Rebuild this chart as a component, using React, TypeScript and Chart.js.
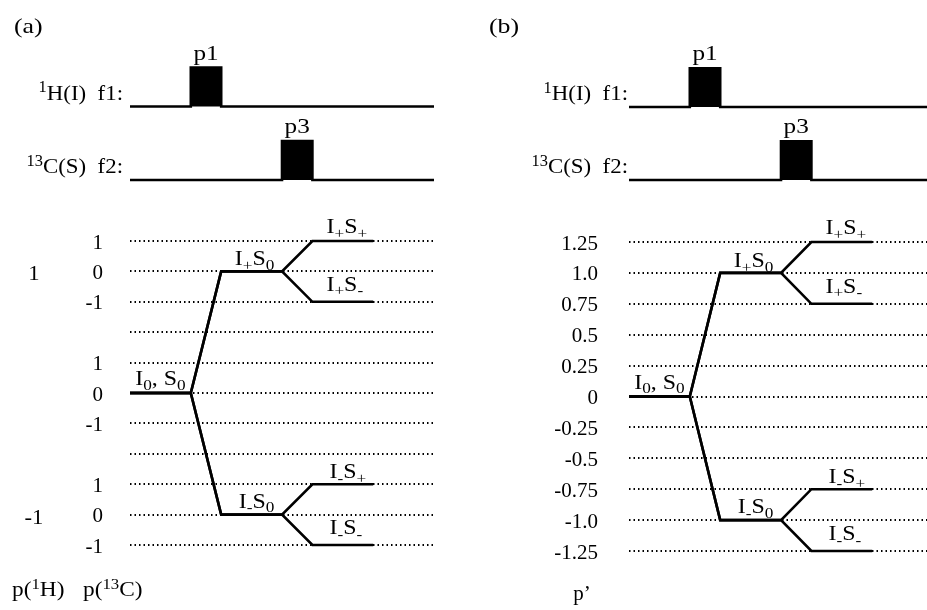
import React, { useEffect, useRef } from "react";
import { Chart, registerables } from "chart.js";

Chart.register(...registerables);

// ---------------- data ----------------
// time axis in units of one pulse width
const timeRange = [0, 10];
const pathTimes = [0, 2, 3, 5, 6, 8];

// pulse sequence
const channelNames = ["^{1}H(I)  f1:", "^{13}C(S)  f2:"];
const channelBaselines = [1, 0];
const pulseNames = ["p1", "p3"];
const pulseStarts = [2, 5];
const pulseEnds = [3, 6];
const pulseHeights = [0.53, 0.53];

// panel (a): levels of p(1H), p(13C)
const levelsA = [5, 4, 3, 2, 1, 0, -1, -2, -3, -4, -5];
const tickLabelsA = ["1", "0", "-1", "", "1", "0", "-1", "", "1", "0", "-1"];
const protonLevelsA = [4, -4];
const protonLabelsA = ["1", "-1"];
const pathA_plusPlus = [0, 0, 4, 4, 5, 5];
const pathA_plusMinus = [0, 0, 4, 4, 3, 3];
const pathA_minusPlus = [0, 0, -4, -4, -3, -3];
const pathA_minusMinus = [0, 0, -4, -4, -5, -5];

// panel (b): p'
const levelsB = [1.25, 1.0, 0.75, 0.5, 0.25, 0, -0.25, -0.5, -0.75, -1.0, -1.25];
const tickLabelsB = ["1.25", "1.0", "0.75", "0.5", "0.25", "0", "-0.25", "-0.5", "-0.75", "-1.0", "-1.25"];
const pathB_plusPlus = [0, 0, 1, 1, 1.25, 1.25];
const pathB_plusMinus = [0, 0, 1, 1, 0.75, 0.75];
const pathB_minusPlus = [0, 0, -1, -1, -0.75, -0.75];
const pathB_minusMinus = [0, 0, -1, -1, -1.25, -1.25];

// coherence state labels: pathway index and segment index
const stateLabels = ["I_{0}, S_{0}", "I_{+}S_{0}", "I_{+}S_{+}", "I_{+}S_{-}", "I_{-}S_{0}", "I_{-}S_{+}", "I_{-}S_{-}"];
const stateLabelPath = [0, 0, 0, 1, 3, 2, 3];
const stateLabelSegment = [0, 2, 4, 4, 2, 4, 4];

// ---------------- style ----------------
const FONT = '"Liberation Serif", "Times New Roman", serif';
const TICK_FS = 21;
const ST_LETTER = { size: 21, sx: 1.23 };
const ST_CHANNEL = { size: 22, sx: 1.04 };
const ST_PULSE = { size: 21, sx: 1.2 };
const ST_STATE = { size: 21, sx: 1.14 };
const ST_BOTTOM = { size: 21, sx: 1.11 };
const stateLabelLift = [8, 6, 8, 11, 7, 6, 11];
const stateLabelShift = [0, 3, 4, 2, 5, 5, 3];
const H = 610;
const PAD_TOP = 50;
const PAD_BOTTOM = 50;

type Run = { t: string; k: "n" | "sub" | "sup" };
function runsOf(s: string): Run[] {
  const out: Run[] = [];
  const re = /([_^])\{([^}]*)\}|([^_^]+)/g;
  let m: RegExpExecArray | null;
  while ((m = re.exec(s))) {
    if (m[1]) out.push({ t: m[2], k: m[1] === "_" ? "sub" : "sup" });
    else out.push({ t: m[3], k: "n" });
  }
  return out;
}

function drawRich(
  ctx: CanvasRenderingContext2D,
  s: string,
  x: number,
  y: number,
  align: "left" | "center" | "right",
  st: { size: number; sx: number }
) {
  const size = st.size;
  const runs = runsOf(s);
  const small = size * 0.72;
  const widths = runs.map((r) => {
    ctx.font = `${r.k === "n" ? size : small}px ${FONT}`;
    return ctx.measureText(r.t).width;
  });
  const total = widths.reduce((a, b) => a + b, 0) * st.sx;
  const x0 = align === "left" ? x : align === "center" ? x - total / 2 : x - total;
  ctx.save();
  ctx.translate(x0, y);
  ctx.scale(st.sx, 1);
  ctx.fillStyle = "#000";
  ctx.textAlign = "left";
  ctx.textBaseline = "alphabetic";
  let cx = 0;
  runs.forEach((r, i) => {
    ctx.font = `${r.k === "n" ? size : small}px ${FONT}`;
    const dy = r.k === "sub" ? size * 0.22 : r.k === "sup" ? -size * 0.32 : 0;
    ctx.fillText(r.t, cx, dy);
    cx += widths[i];
  });
  ctx.restore();
}

type PanelCfg = {
  left: number;
  width: number;
  letter: string;
  letterX: number;
  levels: number[];
  tickLabels: string[];
  paths: number[][];
  yMin: number;
  yMax: number;
  sMin: number;
  sMax: number;
  axisWidth: number;
  tickPad: number;
  padRight: number;
  chanGap: number;
  extra: (ctx: CanvasRenderingContext2D, chart: any) => void;
};

const panelA: PanelCfg = {
  left: 0,
  width: 463,
  letter: "(a)",
  letterX: 14,
  levels: levelsA,
  tickLabels: tickLabelsA,
  paths: [pathA_plusPlus, pathA_plusMinus, pathA_minusPlus, pathA_minusMinus],
  yMin: -5.493,
  yMax: 11.283,
  sMin: -5.17,
  sMax: 1.769,
  axisWidth: 130,
  tickPad: 27,
  padRight: 29,
  chanGap: 7,
  extra: (ctx, chart) => {
    const ys = chart.scales.y;
    protonLevelsA.forEach((lv, i) => {
      drawRich(ctx, protonLabelsA[i], 34, ys.getPixelForValue(lv) + 2 + TICK_FS * 0.33, "center", { size: TICK_FS, sx: 1.08 });
    });
    drawRich(ctx, "p(^{1}H)", 12, 596, "left", ST_BOTTOM);
    drawRich(ctx, "p(^{13}C)", 83, 596, "left", ST_BOTTOM);
  },
};

const panelB: PanelCfg = {
  left: 463,
  width: 470,
  letter: "(b)",
  letterX: 26,
  levels: levelsB,
  tickLabels: tickLabelsB,
  paths: [pathB_plusPlus, pathB_plusMinus, pathB_minusPlus, pathB_minusMinus],
  yMin: -1.3228,
  yMax: 2.8034,
  sMin: -5.205,
  sMax: 1.781,
  axisWidth: 166,
  tickPad: 31,
  padRight: 0,
  chanGap: 1,
  extra: (ctx) => {
    drawRich(ctx, "p\u2019", 119, 600, "center", { size: 21, sx: 1 });
  },
};

function buildConfig(p: PanelCfg): any {
  const datasets: any[] = [];
  channelBaselines.forEach((base, i) => {
    const top = base + pulseHeights[i];
    datasets.push({
      type: "line",
      xAxisID: "x",
      yAxisID: "ys",
      data: [
        { x: timeRange[0], y: base },
        { x: pulseStarts[i], y: base },
        { x: pulseStarts[i], y: top },
        { x: pulseEnds[i], y: top },
        { x: pulseEnds[i], y: base },
        { x: timeRange[1], y: base },
      ],
      borderColor: "#000",
      backgroundColor: "#000",
      borderWidth: 2.6,
      pointRadius: 0,
      tension: 0,
      fill: { value: base },
      clip: false,
    });
  });
  p.paths.forEach((path) => {
    datasets.push({
      type: "line",
      xAxisID: "x",
      yAxisID: "y",
      data: path.map((v, k) => ({ x: pathTimes[k], y: v })),
      borderColor: "#000",
      borderWidth: 2.6,
      pointRadius: 0,
      tension: 0,
      fill: false,
      clip: false,
    });
  });

  const annotator = {
    id: "annotator",
    afterDraw(chart: any) {
      const ctx = chart.ctx as CanvasRenderingContext2D;
      const xs = chart.scales.x;
      const ys = chart.scales.y;
      const ss = chart.scales.ys;
      const area = chart.chartArea;
      drawRich(ctx, p.letter, p.letterX, 33, "left", ST_LETTER);
      channelBaselines.forEach((b, i) => {
        drawRich(ctx, channelNames[i], area.left - p.chanGap, ss.getPixelForValue(b) - 7, "right", ST_CHANNEL);
      });
      pulseNames.forEach((n, i) => {
        const xm = xs.getPixelForValue((pulseStarts[i] + pulseEnds[i]) / 2);
        drawRich(ctx, n, xm, ss.getPixelForValue(channelBaselines[i] + pulseHeights[i]) - 8, "center", ST_PULSE);
      });
      stateLabels.forEach((s, i) => {
        const path = p.paths[stateLabelPath[i]];
        const k = stateLabelSegment[i];
        const xm = (xs.getPixelForValue(pathTimes[k]) + xs.getPixelForValue(pathTimes[k + 1])) / 2;
        const y = ys.getPixelForValue(path[k]);
        drawRich(ctx, s, xm + stateLabelShift[i], y - stateLabelLift[i], "center", ST_STATE);
      });
      p.extra(ctx, chart);
    },
  };

  return {
    type: "line",
    data: { datasets },
    plugins: [annotator],
    options: {
      animation: false,
      responsive: false,
      devicePixelRatio: 1,
      events: [],
      layout: { padding: { left: 0, right: p.padRight, top: PAD_TOP, bottom: PAD_BOTTOM } },
      plugins: { legend: { display: false }, tooltip: { enabled: false }, title: { display: false } },
      scales: {
        x: { type: "linear", display: false, min: timeRange[0], max: timeRange[1], offset: false },
        ys: { type: "linear", display: false, position: "right", min: p.sMin, max: p.sMax },
        y: {
          type: "linear",
          position: "left",
          min: p.yMin,
          max: p.yMax,
          afterBuildTicks: (s: any) => {
            s.ticks = p.levels.map((v) => ({ value: v }));
          },
          afterFit: (s: any) => {
            s.width = p.axisWidth;
            s.paddingTop = 0;
            s.paddingBottom = 0;
          },
          ticks: {
            autoSkip: false,
            padding: p.tickPad,
            labelOffset: 2,
            color: "#000",
            font: { family: FONT, size: TICK_FS },
            callback: (_v: any, i: number) => p.tickLabels[i],
          },
          grid: { drawTicks: false, color: "#000", lineWidth: 2, borderDash: [1.5, 3] },
          border: { display: false, dash: [1.5, 3] },
        },
      },
    },
  };
}

function Panel({ cfg }: { cfg: PanelCfg }) {
  const ref = useRef<HTMLCanvasElement>(null);
  useEffect(() => {
    const chart = new Chart(ref.current as HTMLCanvasElement, buildConfig(cfg));
    return () => chart.destroy();
  }, [cfg]);
  return (
    <canvas
      ref={ref}
      width={cfg.width}
      height={H}
      style={{ position: "absolute", left: cfg.left, top: 0, width: cfg.width, height: H }}
    />
  );
}

export default function App() {
  return (
    <div
      style={{
        position: "absolute",
        left: 0,
        top: 0,
        width: 927,
        height: H,
        overflow: "hidden",
        background: "#fff",
      }}
    >
      <Panel cfg={panelA} />
      <Panel cfg={panelB} />
    </div>
  );
}
